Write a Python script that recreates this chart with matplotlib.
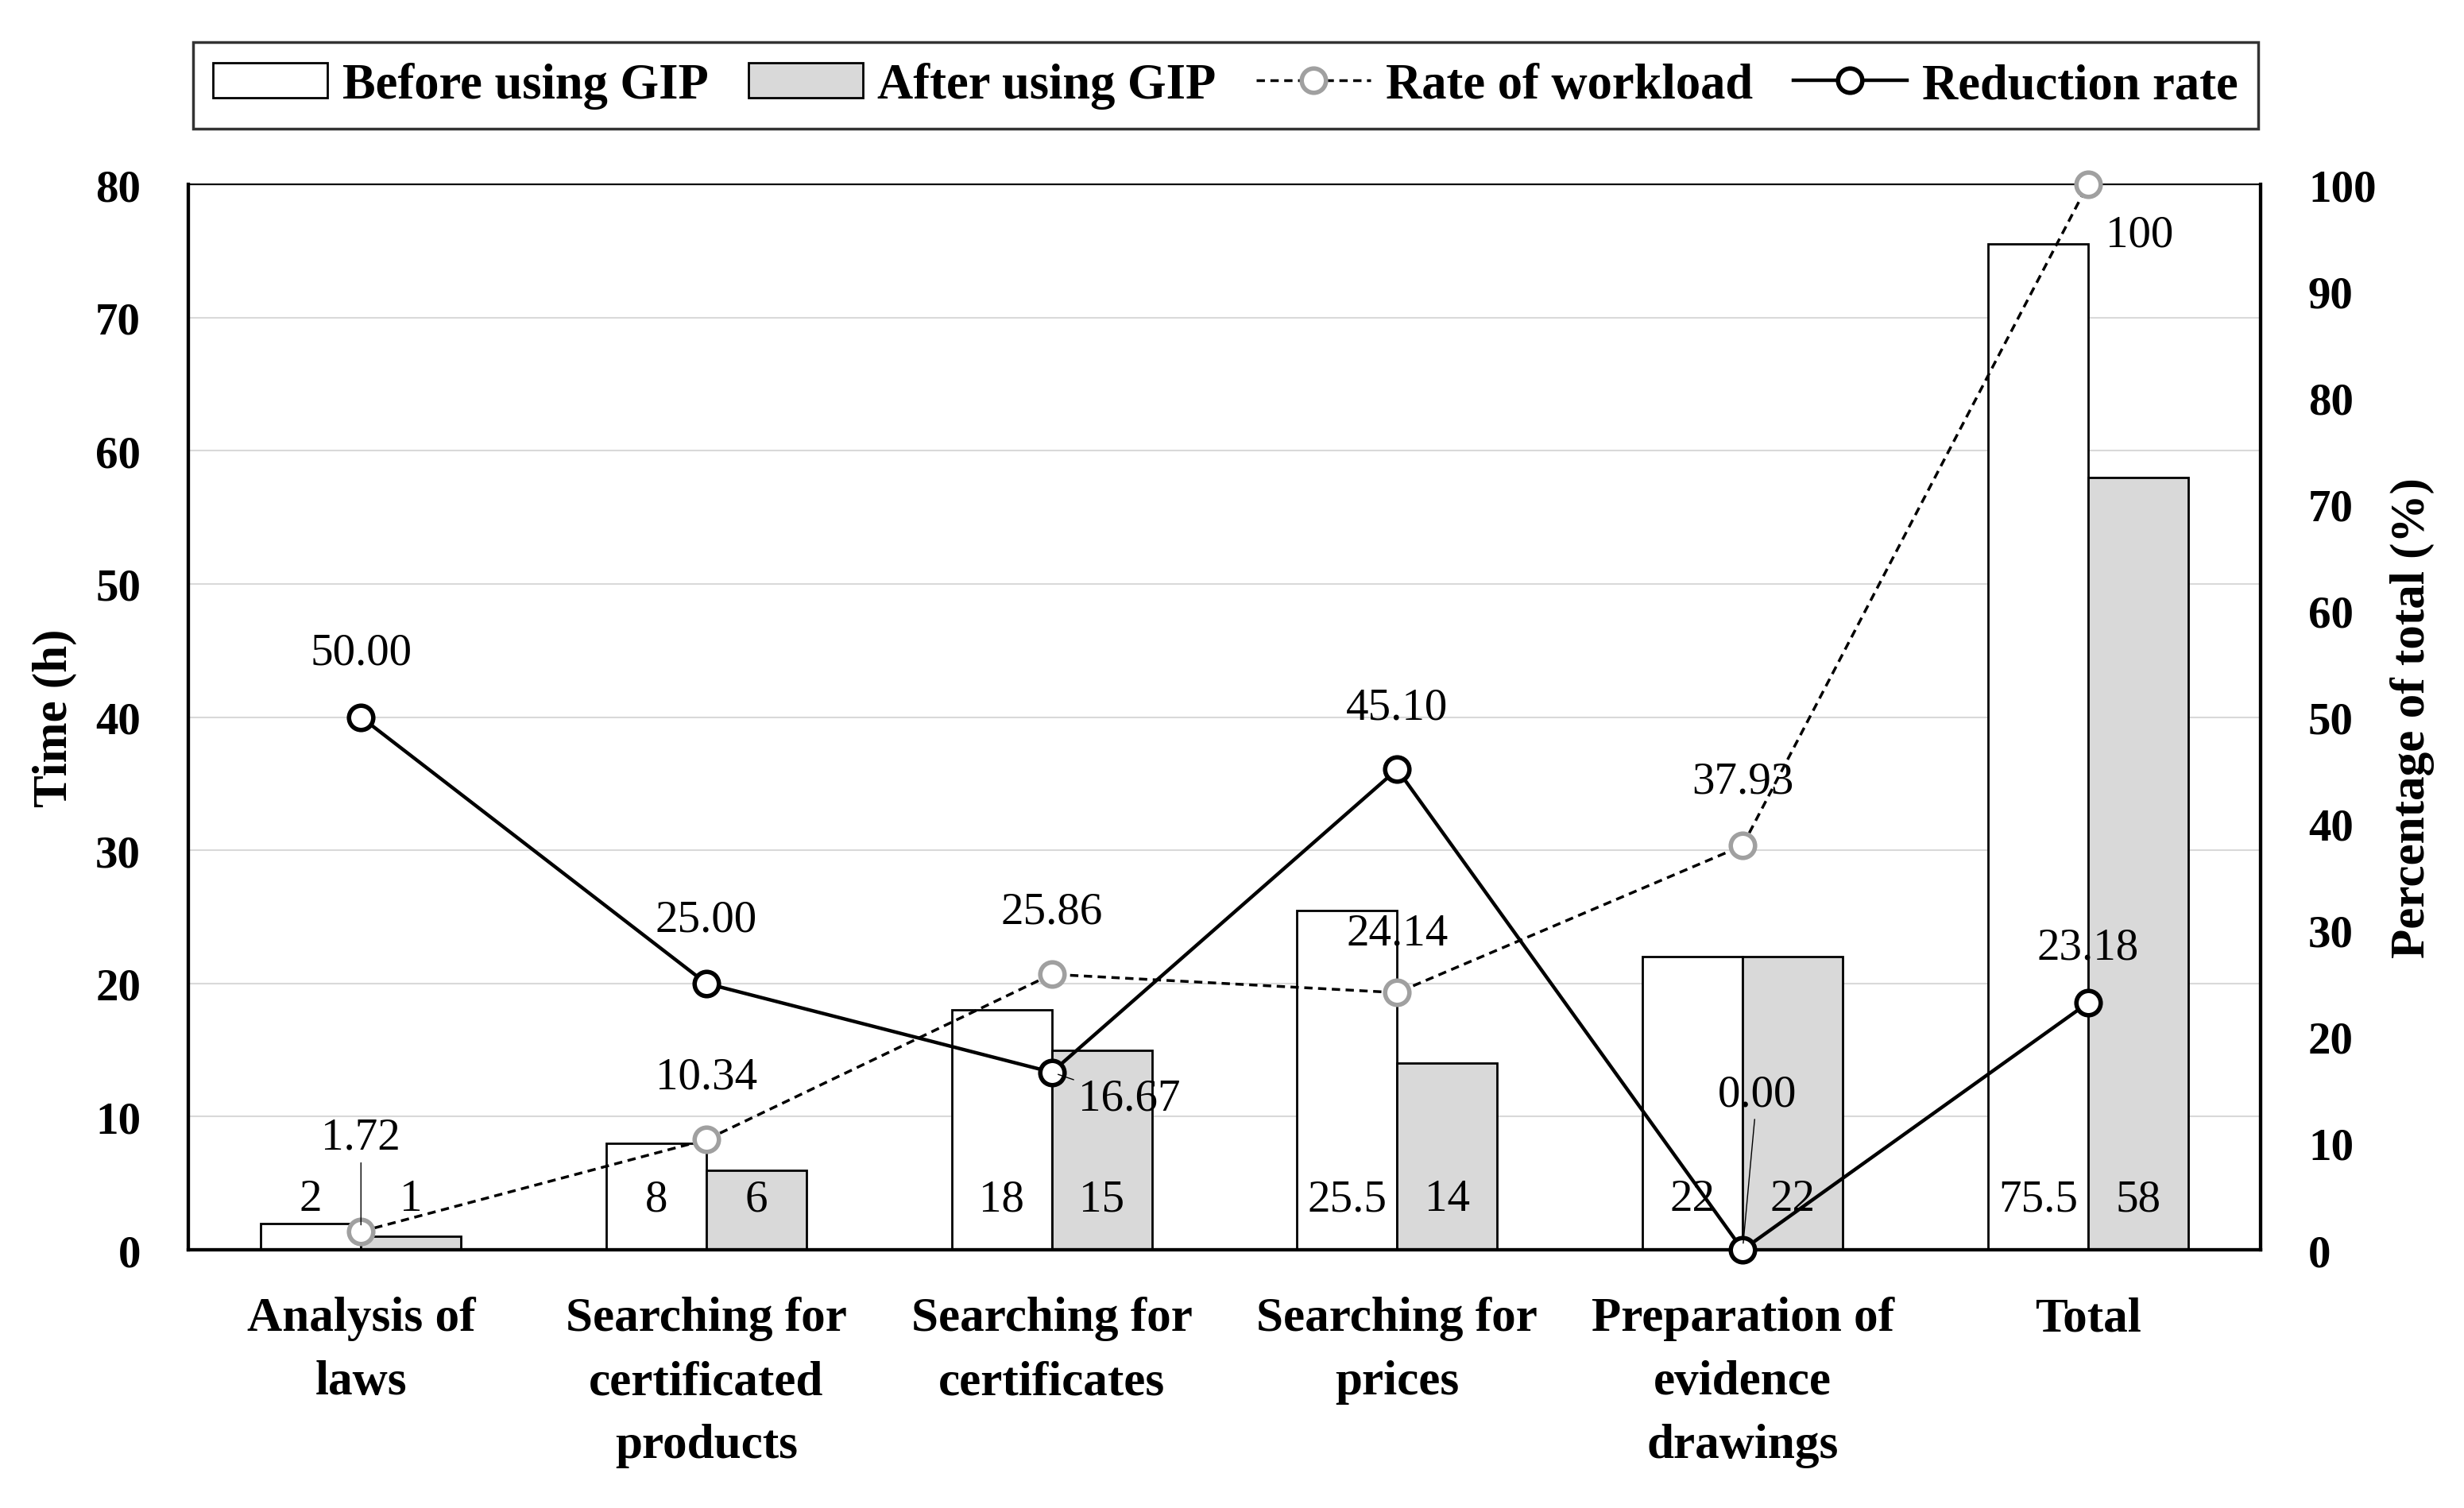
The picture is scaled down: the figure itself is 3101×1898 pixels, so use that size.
import numpy as np
import matplotlib.pyplot as plt
from matplotlib.patches import Patch
from matplotlib.lines import Line2D

plt.rcParams['font.family'] = ['Liberation Serif', 'DejaVu Serif']

# Data
categories = ['Analysis of\nlaws', 'Searching for\ncertificated\nproducts',
              'Searching for\ncertificates', 'Searching for\nprices',
              'Preparation of\nevidence\ndrawings', 'Total']
before_gip = [2, 8, 18, 25.5, 22, 75.5]
after_gip = [1, 6, 15, 14, 22, 58]
workload_rate = [1.72, 10.34, 25.86, 24.14, 37.93, 100]
reduction_rate = [50.00, 25.00, 16.67, 45.10, 0.00, 23.18]

left_ticks = list(range(0, 81, 10))
right_ticks = list(range(0, 101, 10))

# label offsets (points) for the line labels
workload_off = [(0, 85), (0, 57), (0, 57), (0, 54), (0, 58), (47, -46)]
reduction_off = [(0, 58), (0, 58), (70, -24), (0, 56), (13, 141), (0, 50)]
workload_leader = [True, False, False, False, False, False]
reduction_leader = [False, False, True, False, True, False]

fig = plt.figure(figsize=(31.01, 18.99), dpi=100)
ax = fig.add_axes([0.0764, 0.1711, 0.9175 - 0.0764, 0.8773 - 0.1711])

x = np.arange(len(categories))
w = 0.29
ax.bar(x - w / 2, before_gip, w, color='white', edgecolor='black', linewidth=2, zorder=2)
ax.bar(x + w / 2, after_gip, w, color='#d9d9d9', edgecolor='black', linewidth=2, zorder=2)
for xi, v in zip(x, before_gip):
    ax.text(xi - w / 2, 3.8, f'{v:g}', ha='center', va='center', fontsize=41, zorder=3)
for xi, v in zip(x, after_gip):
    ax.text(xi + w / 2, 3.8, f'{v:g}', ha='center', va='center', fontsize=41, zorder=3)

ax.set_xlim(-0.5, 5.5)
ax.set_ylim(0, 80)
ax.set_yticks(left_ticks)
ax.yaxis.grid(True, color='#d9d9d9', lw=1.5)
ax.set_axisbelow(True)
ax.set_xticks(x)
ax.set_xticklabels(categories, fontsize=44, fontweight='bold', linespacing=1.55)
ax.tick_params(axis='x', length=0, pad=42)
ax.tick_params(axis='y', length=0, pad=43, labelsize=41)
for lab in ax.get_yticklabels():
    lab.set_fontweight('bold')
ax.set_ylabel('Time (h)', fontsize=44, fontweight='bold')
ax.yaxis.set_label_coords(-0.0644, 0.5)
ax.yaxis.label.set_va('center')

ax2 = ax.twinx()
ax2.set_ylim(0, 100)
ax2.set_yticks(right_ticks)
ax2.tick_params(axis='y', length=0, pad=43, labelsize=41)
for lab in ax2.get_yticklabels():
    lab.set_fontweight('bold')
ax2.set_ylabel('Percentage of total (%)', fontsize=44, fontweight='bold', rotation=90)
ax2.yaxis.set_label_coords(1.0732, 0.5)
ax2.yaxis.label.set_va('center')

ax2.plot(x, workload_rate, color='black', ls=(0, (3, 2)), lw=2.5, marker='o', ms=22,
         mfc='white', mec='#a0a0a0', mew=4, zorder=3, clip_on=False)
ax2.plot(x, reduction_rate, color='black', lw=3.2, marker='o', ms=22,
         mfc='white', mec='black', mew=4, zorder=4, clip_on=False)

for xi, v, off, ld in zip(x, workload_rate, workload_off, workload_leader):
    txt = f'{v:.2f}' if v != 100 else '100'
    ax2.annotate(txt, (xi, v), xytext=off, textcoords='offset points',
                 ha='center', va='center', fontsize=41, zorder=6,
                 arrowprops=dict(arrowstyle='-', lw=1, color='black', shrinkA=2, shrinkB=6) if ld else None)
for xi, v, off, ld in zip(x, reduction_rate, reduction_off, reduction_leader):
    ax2.annotate(f'{v:.2f}', (xi, v), xytext=off, textcoords='offset points',
                 ha='center', va='center', fontsize=41, zorder=6,
                 arrowprops=dict(arrowstyle='-', lw=1, color='black', shrinkA=2, shrinkB=6) if ld else None)

for a in (ax, ax2):
    a.spines['left'].set_linewidth(3)
    a.spines['bottom'].set_linewidth(3)
    a.spines['right'].set_linewidth(3)
    a.spines['top'].set_linewidth(1.5)

handles = [Patch(facecolor='white', edgecolor='black', lw=2),
           Patch(facecolor='#d9d9d9', edgecolor='black', lw=2),
           Line2D([], [], color='black', ls=(0, (3, 2)), lw=2.5, marker='o', ms=22,
                  mfc='white', mec='#a0a0a0', mew=4),
           Line2D([], [], color='black', lw=3.2, marker='o', ms=22,
                  mfc='white', mec='black', mew=4)]
labels = ['Before using GIP', 'After using GIP', 'Rate of workload', 'Reduction rate']
leg = fig.legend(handles, labels, loc='center', bbox_to_anchor=(0.0784, 0.9147, 0.838, 0.0563),
                 mode='expand', ncol=4, fancybox=False, edgecolor='black', borderaxespad=0,
                 handlelength=2.3, handletextpad=0.3, prop={'size': 45, 'weight': 'bold'})
leg.get_frame().set_linewidth(2.5)

fig.savefig('out.png', dpi=100)
